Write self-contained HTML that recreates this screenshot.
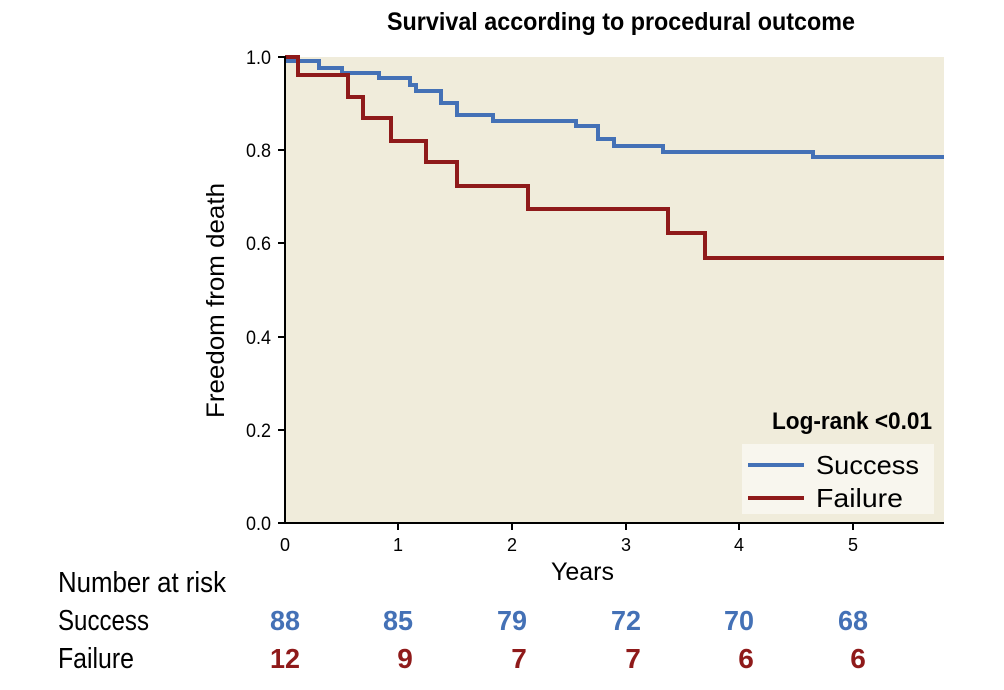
<!DOCTYPE html>
<html><head><meta charset="utf-8"><style>
body{margin:0;background:#fff;}
svg text{font-family:"Liberation Sans Narrow","Liberation Sans",sans-serif;}
</style></head><body>
<svg width="1004" height="685" xmlns="http://www.w3.org/2000/svg">
<rect x="285" y="57" width="659" height="466" fill="#f0ecdb"/>
<text x="387" y="30" font-size="25" font-weight="bold" textLength="468" lengthAdjust="spacingAndGlyphs">Survival according to procedural outcome</text>
<g fill="none" stroke-width="4" stroke-linejoin="miter">
<polyline stroke="#4471b6" points="285,57 288,57 288,61 319,61 319,68 342,68 342,73 379,73 379,78 410,78 410,85 416,85 416,91 441,91 441,103 457,103 457,115 493,115 493,121 576,121 576,126 598,126 598,139 614,139 614,146 663,146 663,152 813,152 813,157 944,157"/>
<polyline stroke="#8f1a1a" points="285,57 298,57 298,75 348,75 348,97 363,97 363,118 391,118 391,141 426,141 426,162 457,162 457,186 528,186 528,209 668,209 668,233 705,233 705,258 944,258"/>
</g>
<g stroke="#000" stroke-width="2">
<line x1="285" y1="56" x2="285" y2="524"/>
<line x1="284" y1="523" x2="944" y2="523"/>
<line x1="278" y1="57" x2="285" y2="57"/><line x1="278" y1="150" x2="285" y2="150"/><line x1="278" y1="243" x2="285" y2="243"/><line x1="278" y1="337" x2="285" y2="337"/><line x1="278" y1="430" x2="285" y2="430"/><line x1="278" y1="523" x2="285" y2="523"/>
<line x1="398" y1="523" x2="398" y2="530"/><line x1="512" y1="523" x2="512" y2="530"/><line x1="626" y1="523" x2="626" y2="530"/><line x1="739" y1="523" x2="739" y2="530"/><line x1="853" y1="523" x2="853" y2="530"/>
</g>
<g font-size="19" text-anchor="end">
<text x="271" y="64" textLength="25" lengthAdjust="spacingAndGlyphs">1.0</text><text x="271" y="157" textLength="25" lengthAdjust="spacingAndGlyphs">0.8</text><text x="271" y="250" textLength="25" lengthAdjust="spacingAndGlyphs">0.6</text><text x="271" y="344" textLength="25" lengthAdjust="spacingAndGlyphs">0.4</text><text x="271" y="437" textLength="25" lengthAdjust="spacingAndGlyphs">0.2</text><text x="271" y="530" textLength="25" lengthAdjust="spacingAndGlyphs">0.0</text>
</g>
<g font-size="18" text-anchor="middle">
<text x="285" y="551">0</text><text x="398" y="551">1</text><text x="512" y="551">2</text><text x="626" y="551">3</text><text x="739" y="551">4</text><text x="853" y="551">5</text>
</g>
<text x="551" y="580" font-size="25" textLength="63" lengthAdjust="spacingAndGlyphs">Years</text>
<text transform="translate(224,418) rotate(-90)" font-size="25" textLength="235" lengthAdjust="spacingAndGlyphs">Freedom from death</text>
<text x="772" y="429" font-size="24" font-weight="bold" textLength="160" lengthAdjust="spacingAndGlyphs">Log-rank &lt;0.01</text>
<rect x="742" y="444" width="192" height="70" fill="#f8f6ee"/>
<line x1="748" y1="465" x2="804" y2="465" stroke="#4471b6" stroke-width="4"/>
<line x1="748" y1="498" x2="804" y2="498" stroke="#8f1a1a" stroke-width="4"/>
<text x="816" y="474" font-size="26" textLength="103" lengthAdjust="spacingAndGlyphs">Success</text>
<text x="816" y="507" font-size="26" textLength="87" lengthAdjust="spacingAndGlyphs">Failure</text>
<text x="58" y="592" font-size="29" textLength="168" lengthAdjust="spacingAndGlyphs">Number at risk</text>
<text x="58" y="630" font-size="29" textLength="91" lengthAdjust="spacingAndGlyphs">Success</text>
<text x="58" y="668" font-size="29" textLength="76" lengthAdjust="spacingAndGlyphs">Failure</text>
<g font-size="28" font-weight="bold" text-anchor="middle" fill="#4471b6">
<text x="285" y="630" textLength="30" lengthAdjust="spacingAndGlyphs">88</text><text x="398" y="630" textLength="30" lengthAdjust="spacingAndGlyphs">85</text><text x="512" y="630" textLength="30" lengthAdjust="spacingAndGlyphs">79</text><text x="626" y="630" textLength="30" lengthAdjust="spacingAndGlyphs">72</text><text x="739" y="630" textLength="30" lengthAdjust="spacingAndGlyphs">70</text><text x="853" y="630" textLength="30" lengthAdjust="spacingAndGlyphs">68</text>
</g>
<g font-size="28" font-weight="bold" text-anchor="middle" fill="#8f1a1a">
<text x="285" y="668" textLength="30" lengthAdjust="spacingAndGlyphs">12</text><text x="405" y="668">9</text><text x="519" y="668">7</text><text x="633" y="668">7</text><text x="746" y="668">6</text><text x="858" y="668">6</text>
</g>
</svg>
</body></html>
